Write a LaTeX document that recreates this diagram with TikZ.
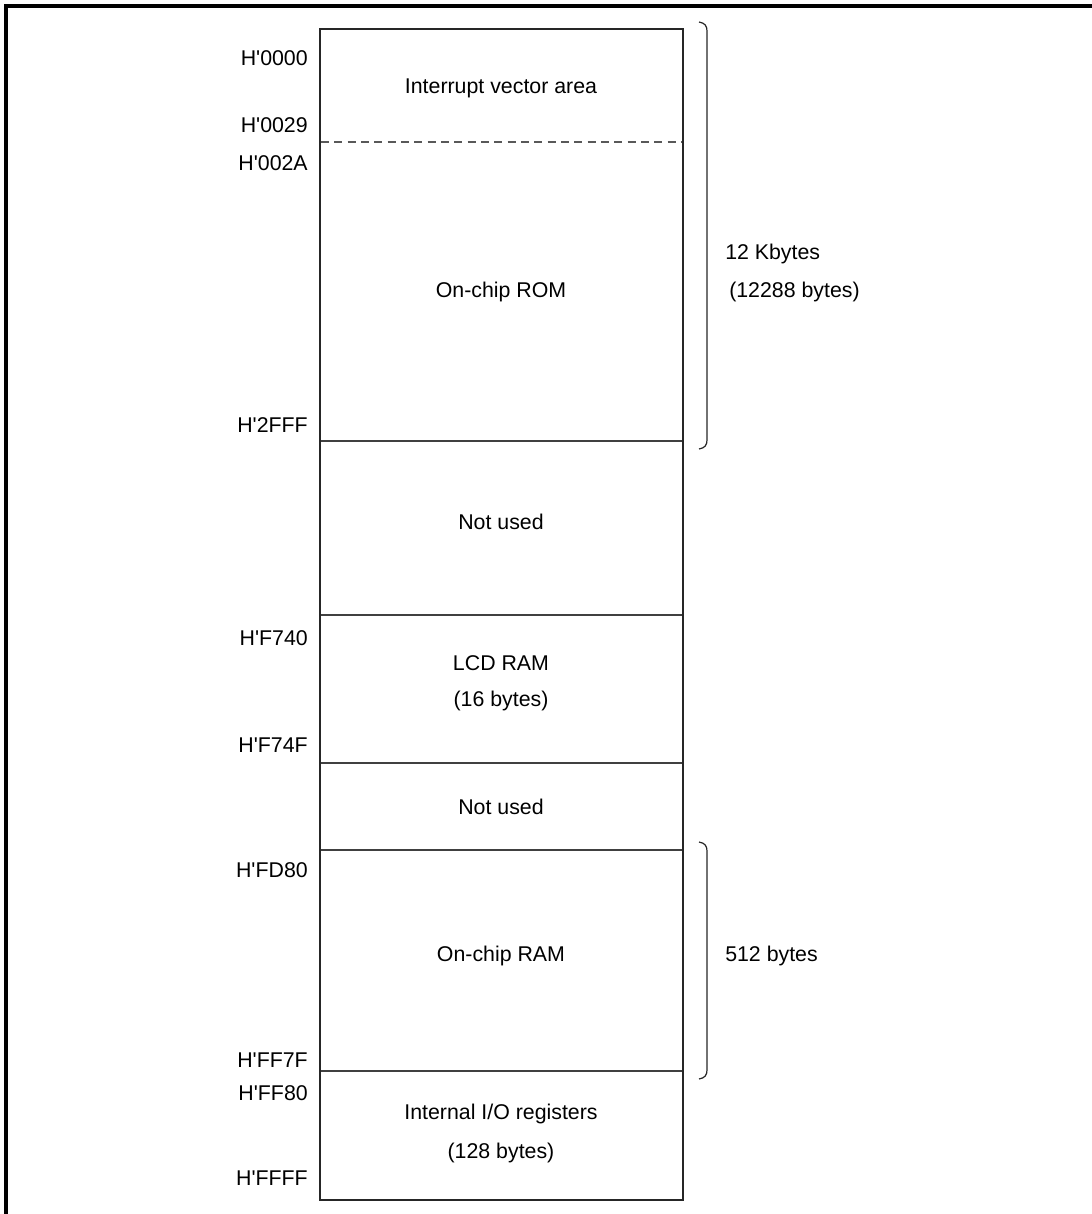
\documentclass[tikz,border=0pt]{standalone}
\usepackage{fontspec}
\setmainfont{Liberation Sans}
\newcommand{\q}{\textquotesingle}
\begin{document}
\begin{tikzpicture}[x=0.75pt,y=-0.75pt,
  addr/.style={anchor=east,inner sep=0pt,font=\fontsize{16}{19}\selectfont},
  txt/.style={anchor=center,inner sep=0pt,font=\fontsize{16}{19}\selectfont},
  side/.style={anchor=west,inner sep=0pt,font=\fontsize{16}{19}\selectfont},
  sep/.style={line width=0.9pt,draw=black!75},
  brace/.style={line width=0.9pt,draw=black!85}]
\useasboundingbox (0,0) rectangle (1092,1214);
% outer frame (top and left only)
\draw[line width=2.3pt] (6,1214) -- (6,6) -- (1092,6);
% separators
\draw[sep,dashed,dash pattern=on 6pt off 4pt,draw=black!65] (321,142) -- (683,142);
\draw[sep] (321,441) -- (683,441);
\draw[sep] (321,615) -- (683,615);
\draw[sep] (321,763) -- (683,763);
\draw[sep] (321,850) -- (683,850);
\draw[sep] (321,1071) -- (683,1071);
% main box
\draw[line width=1.6pt,draw=black!85] (320,29) rectangle (683,1200);
% texts in box
\node[txt] (ivec) at (501,88) {Interrupt vector area};
\node[txt] (rom) at (501,292) {On-chip ROM};
\node[txt] (nu1) at (501,522) {Not used};
\node[txt] (lcd) at (501,663) {LCD RAM};
\node[txt] (lcdb) at (501,701) {(16 bytes)};
\node[txt] (nu2) at (501,807) {Not used};
\node[txt] (ram) at (501,956) {On-chip RAM};
\node[txt] (io) at (501,1114) {Internal I/O registers};
\node[txt] (iob) at (501,1153) {(128 bytes)};
% addresses
\node[addr] (a1) at (308,58) {H\q0000};
\node[addr] (a2) at (308,125) {H\q0029};
\node[addr] (a3) at (308,163) {H\q002A};
\node[addr] (a4) at (308,425) {H\q2FFF};
\node[addr] (a5) at (308,638) {H\q F740};
\node[addr] (a6) at (308,745) {H\q F74F};
\node[addr] (a7) at (308,870) {H\q FD80};
\node[addr] (a8) at (308,1060) {H\q FF7F};
\node[addr] (a9) at (308,1093) {H\q FF80};
\node[addr] (a10) at (308,1178) {H\q FFFF};
% braces
\draw[brace] (699,22) .. controls (705,23) and (707,26) .. (707,31) -- (707,440) .. controls (707,445) and (705,448) .. (699,449);
\draw[brace] (699,842) .. controls (705,843) and (707,846) .. (707,851) -- (707,1070) .. controls (707,1075) and (705,1078) .. (699,1079);
% size labels
\node[side] (k12) at (725,254) {12 Kbytes};
\node[side] (k12b) at (729,292) {(12288 bytes)};
\node[side] (b512) at (725,956) {512 bytes};
\end{tikzpicture}
\end{document}
